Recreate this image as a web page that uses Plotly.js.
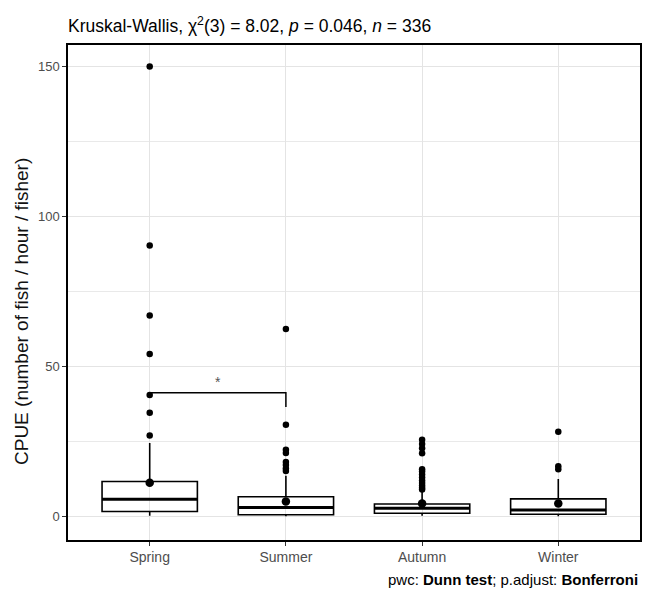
<!DOCTYPE html>
<html>
<head>
<meta charset="utf-8">
<script src="https://cdn.plot.ly/plotly-3.0.1.min.js"></script>
<style>
  html, body { margin: 0; padding: 0; background: #fff; }
  #chart { width: 651px; height: 592px; }
</style>
</head>
<body>
<div id="chart"></div>
<script>
// ---- data ----
const categories = ['Spring', 'Summer', 'Autumn', 'Winter'];
const q1 = [1.7, 0.6, 1.1, 0.8];
const medians = [5.8, 3.0, 2.8, 2.2];
const q3 = [11.7, 6.6, 4.2, 5.9];
const lowerWhisker = [0.3, 0.1, 0.3, 0.1];
const upperWhisker = [24.5, 13.6, 8.6, 12.5];
const means = [11.3, 5.0, 4.4, 4.4];
const outliersSpring = [27.0, 34.6, 40.5, 54.2, 67.0, 90.4, 150.0];
const outliersSummer = [15.2, 16.0, 17.2, 18.2, 21.2, 22.3, 30.6, 62.5];
const outliersAutumn = [9.0, 9.6, 10.4, 11.2, 12.0, 13.0, 14.0, 15.0, 15.8, 21.1, 22.8, 24.2, 25.6];
const outliersWinter = [15.8, 16.8, 28.3];
const yTickVals = [0, 50, 100, 150];
const bracketGroups = ['Spring', 'Summer'];
const bracketY = 41.3;
const bracketTips = [39.6, 36.5];
const bracketLabel = '*';
const titleText = 'Kruskal-Wallis, χ<sup>2</sup>(3) = 8.02, <i>p</i> = 0.046, <i>n</i> = 336';
const captionText = 'pwc: <b>Dunn test</b>; p.adjust: <b>Bonferroni</b>';
const yTitle = 'CPUE (number of fish / hour / fisher)';

// ---- build ----
const FONT = 'Liberation Sans, Arial, sans-serif';
const idx = categories.map((c, i) => i);
const boxW = 0.7;
const outlierSets = [outliersSpring, outliersSummer, outliersAutumn, outliersWinter];

const traces = [];
traces.push({
  type: 'box',
  x: idx,
  q1: q1, median: medians, q3: q3,
  lowerfence: lowerWhisker, upperfence: upperWhisker,
  width: boxW,
  whiskerwidth: 0,
  boxpoints: false,
  fillcolor: 'rgba(255,255,255,0)',
  line: { color: '#000', width: 1.6 },
  hoverinfo: 'skip'
});
// thick median lines
idx.forEach(i => {
  traces.push({
    type: 'scatter', mode: 'lines',
    x: [i - boxW / 2, i + boxW / 2], y: [medians[i], medians[i]],
    line: { color: '#000', width: 3 }, hoverinfo: 'skip'
  });
});
// outliers
const ox = [], oy = [];
outlierSets.forEach((arr, i) => arr.forEach(v => { ox.push(i); oy.push(v); }));
traces.push({
  type: 'scatter', mode: 'markers', x: ox, y: oy,
  marker: { color: '#000', size: 6.5 }, hoverinfo: 'skip'
});
// means
traces.push({
  type: 'scatter', mode: 'markers', x: idx, y: means,
  marker: { color: '#000', size: 8.5 }, hoverinfo: 'skip'
});
// bracket
const b0 = categories.indexOf(bracketGroups[0]);
const b1 = categories.indexOf(bracketGroups[1]);
traces.push({
  type: 'scatter', mode: 'lines',
  x: [b0, b0, b1, b1], y: [bracketTips[0], bracketY, bracketY, bracketTips[1]],
  line: { color: '#000', width: 1.5 }, hoverinfo: 'skip'
});

const layout = {
  width: 651, height: 592,
  margin: { l: 68, r: 11, t: 45, b: 52 },
  paper_bgcolor: '#fff', plot_bgcolor: '#fff',
  showlegend: false,
  title: {
    text: titleText,
    font: { family: FONT, size: 17.5, color: '#000' },
    xref: 'paper', x: 0, xanchor: 'left',
    yref: 'container', y: 1 - 26 / 592, yanchor: 'middle'
  },
  xaxis: {
    range: [-0.6, 3.6],
    tickmode: 'array', tickvals: idx, ticktext: categories,
    showgrid: true, gridcolor: '#e4e4e4', gridwidth: 1,
    zeroline: false,
    showline: true, linecolor: '#000', linewidth: 1.6, mirror: true,
    ticks: 'outside', ticklen: 4, tickwidth: 1, tickcolor: '#333',
    tickfont: { family: FONT, size: 14, color: '#4d4d4d' },
    fixedrange: true
  },
  yaxis: {
    range: [-7.8, 157.2],
    tickmode: 'array', tickvals: yTickVals,
    showgrid: true, gridcolor: '#e4e4e4', gridwidth: 1,
    minor: { tickmode: 'linear', tick0: 0, dtick: 25, showgrid: true, gridcolor: '#e4e4e4', gridwidth: 0.8, ticks: '' },
    zeroline: false,
    showline: true, linecolor: '#000', linewidth: 1.6, mirror: true,
    ticks: 'outside', ticklen: 4, tickwidth: 1, tickcolor: '#333',
    tickfont: { family: FONT, size: 13, color: '#4d4d4d' },
    fixedrange: true
  },
  annotations: [
    {
      text: yTitle, textangle: -90,
      xref: 'paper', x: 0, xanchor: 'center', xshift: -46,
      yref: 'paper', y: (540 - 312) / 495, yanchor: 'middle',
      showarrow: false,
      font: { family: FONT, size: 19, color: '#111' }
    },
    {
      text: captionText,
      xref: 'paper', x: 1, xanchor: 'right',
      yref: 'paper', y: -(579 - 540) / 495, yanchor: 'middle',
      showarrow: false,
      font: { family: FONT, size: 15, color: '#000' }
    },
    {
      text: bracketLabel,
      xref: 'x', x: (b0 + b1) / 2,
      yref: 'y', y: bracketY, yanchor: 'bottom', yshift: 1,
      showarrow: false,
      font: { family: FONT, size: 14, color: '#555' }
    }
  ]
};

Plotly.newPlot('chart', traces, layout, { displayModeBar: false, staticPlot: true });
</script>
</body>
</html>
